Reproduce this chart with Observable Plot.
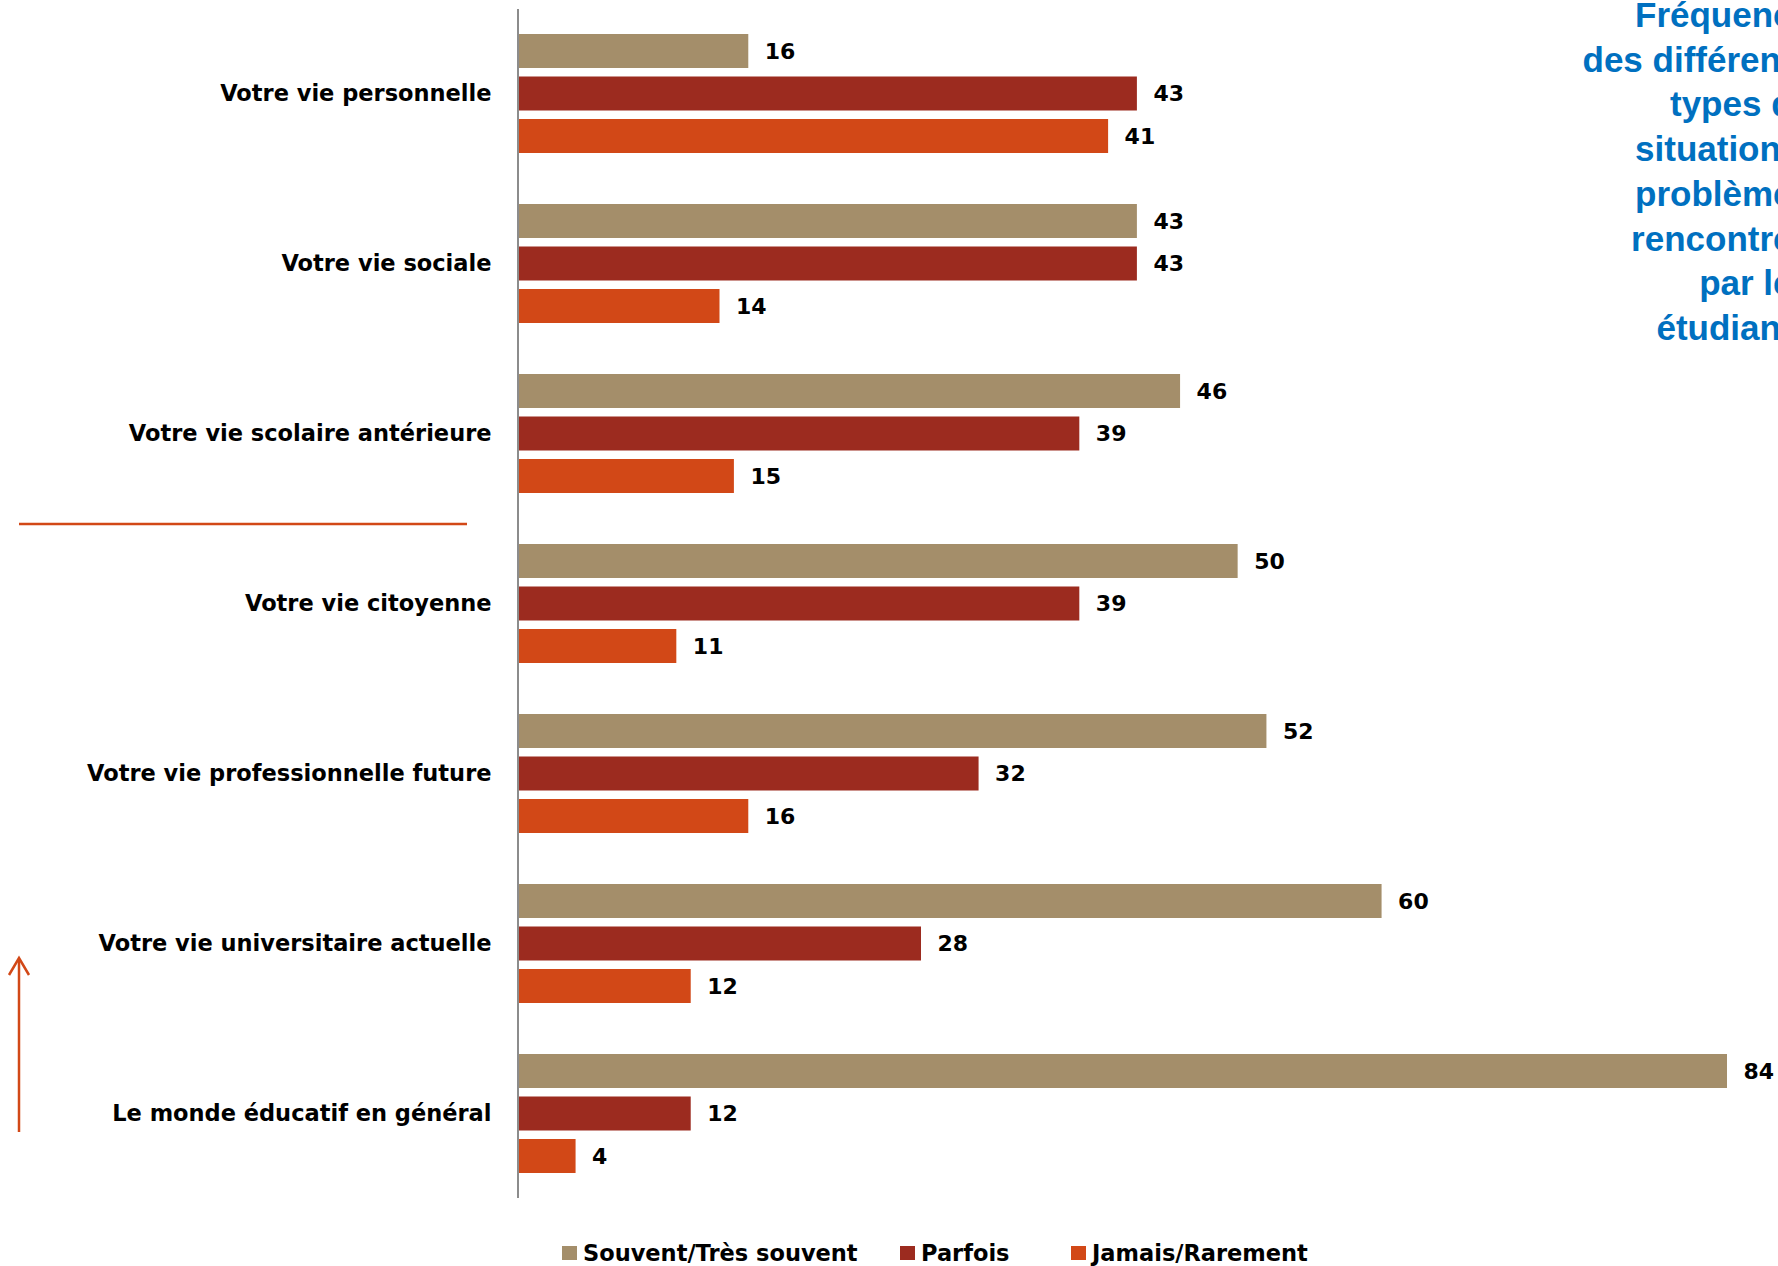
<!DOCTYPE html>
<html>
<head>
<meta charset="utf-8">
<script src="https://cdn.jsdelivr.net/npm/d3@7"></script>
<script src="https://cdn.jsdelivr.net/npm/@observablehq/plot@0.6"></script>
<style>
  html, body { margin: 0; padding: 0; background: #fff; overflow: hidden; }
  #wrap { position: relative; width: 1778px; height: 1266px; overflow: hidden; }
  #chart { position: absolute; left: 0; top: 0; }
  #deco { position: absolute; left: 0; top: 0; pointer-events: none; }
  #title {
    position: absolute; left: 1412px; top: -7px; width: 400px;
    text-align: right; color: #0070C0;
    font-family: "Liberation Sans", Arial, sans-serif; font-weight: bold;
    font-size: 35px; line-height: 44.7px;
  }
  .leg { position: absolute; top: 1240px; display: flex; align-items: center;
    font-family: "DejaVu Sans", sans-serif; font-weight: bold; font-size: 22.5px; color: #000; white-space: nowrap; }
  .sw { width: 15px; height: 14px; margin-right: 6px; display: inline-block; }
</style>
</head>
<body>
<div id="wrap">
  <div id="chart"></div>
  <svg id="deco" width="1778" height="1266"></svg>
  <div id="title"></div>
</div>
<script>
const categories = [
  "Votre vie personnelle",
  "Votre vie sociale",
  "Votre vie scolaire antérieure",
  "Votre vie citoyenne",
  "Votre vie professionnelle future",
  "Votre vie universitaire actuelle",
  "Le monde éducatif en général"
];
const series = ["Souvent/Très souvent", "Parfois", "Jamais/Rarement"];
const souvent = [16, 43, 46, 50, 52, 60, 84];
const parfois = [43, 43, 39, 39, 32, 28, 12];
const jamais  = [41, 14, 15, 11, 16, 12, 4];
const colors = ["#A48E6A", "#9C2B1F", "#D24817"];
const titleLines = ["Fréquence", "des différents", "types de", "situations-", "problèmes", "rencontrés", "par les", "étudiants"];

const valuesBySeries = [souvent, parfois, jamais];
const data = [];
categories.forEach((c, i) => {
  series.forEach((s, j) => data.push({category: c, series: s, value: valuesBySeries[j][i]}));
});

const chart = Plot.plot({
  width: 1778,
  height: 1200,
  marginLeft: 518,
  marginRight: 51,
  marginTop: 25.5,
  marginBottom: 18.5,
  style: {fontFamily: "DejaVu Sans, sans-serif", background: "transparent"},
  x: {domain: [0, 84], axis: null},
  y: {domain: series, axis: null, padding: 0.2, round: false},
  fy: {domain: categories, paddingInner: 0.2, paddingOuter: 0, round: false, label: null},
  color: {domain: series, range: colors},
  marks: [
    Plot.barX(data, {x: "value", y: "series", fy: "category", fill: "series"}),
    Plot.text(data, {x: "value", y: "series", fy: "category", text: d => String(d.value),
      dx: 16, textAnchor: "start", fontWeight: "bold", fontSize: 22, fill: "#000"}),
    Plot.axisFy({anchor: "left", tickSize: 0, tickPadding: 27, fontSize: 22.5, fontWeight: "bold", fill: "#000", label: null})
  ]
});
document.getElementById("chart").appendChild(chart);

// Decorations: vertical axis line, horizontal rule and arrow
const deco = d3.select("#deco");
deco.append("line").attr("x1", 518).attr("x2", 518).attr("y1", 9).attr("y2", 1198)
  .attr("stroke", "#8c8c8c").attr("stroke-width", 2);
deco.append("line").attr("x1", 19).attr("x2", 467).attr("y1", 524).attr("y2", 524)
  .attr("stroke", "#D24817").attr("stroke-width", 2.5);
deco.append("line").attr("x1", 19).attr("x2", 19).attr("y1", 1132).attr("y2", 959)
  .attr("stroke", "#D24817").attr("stroke-width", 2.5);
deco.append("polyline").attr("points", "9,975 19,958 29,975")
  .attr("fill", "none").attr("stroke", "#D24817").attr("stroke-width", 2.5);

// Title
document.getElementById("title").innerHTML = titleLines.map(t => `<div>${t}</div>`).join("");

// Legend
const legLefts = [562, 900, 1071];
const wrap = document.getElementById("wrap");
series.forEach((s, i) => {
  const el = document.createElement("div");
  el.className = "leg";
  el.style.left = legLefts[i] + "px";
  el.innerHTML = `<span class="sw" style="background:${colors[i]}"></span><span>${s}</span>`;
  wrap.appendChild(el);
});
</script>
</body>
</html>
